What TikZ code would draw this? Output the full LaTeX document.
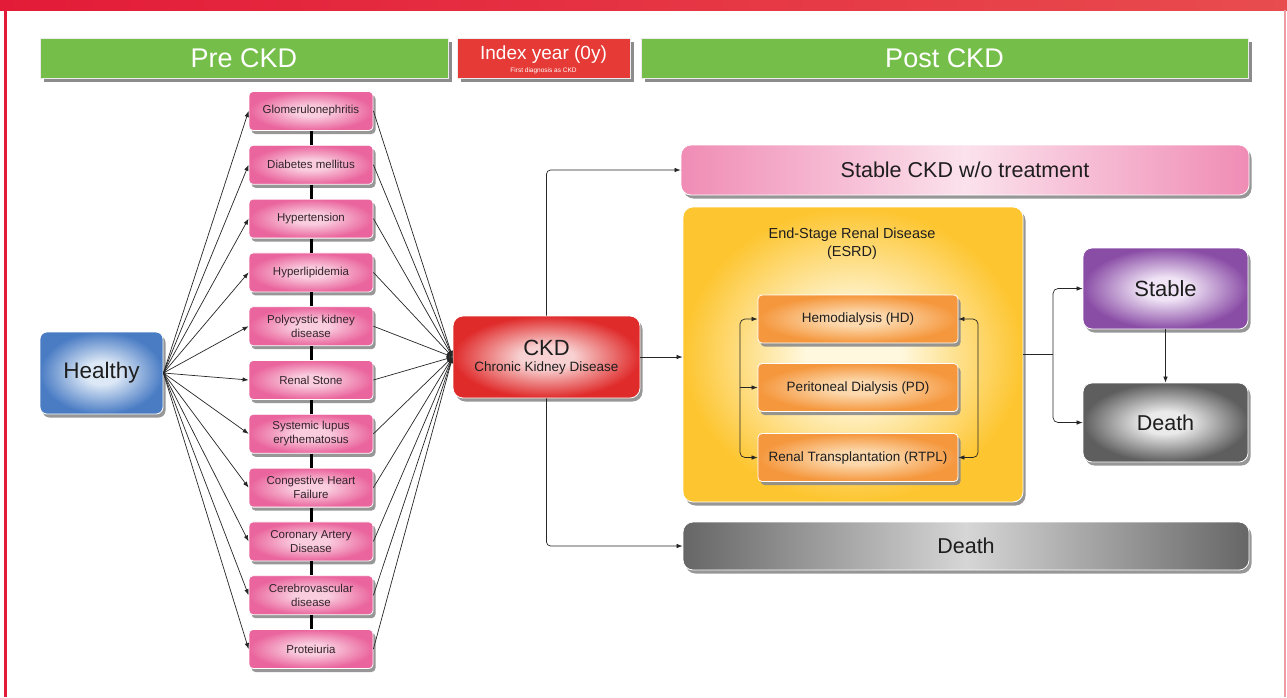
\documentclass[tikz,border=0pt]{standalone}
\usepackage{fontspec}
\setmainfont{Liberation Sans}
\usetikzlibrary{arrows.meta,shadows,calc}

\newcommand\fsz[2]{\fontsize{#1}{#2}\selectfont}

% palette
\definecolor{topL}{HTML}{E31B38}
\definecolor{topR}{HTML}{E84C4E}
\definecolor{rightB}{HTML}{F09AA2}
\definecolor{hdrgreen}{HTML}{76BE4A}
\definecolor{idxred}{HTML}{E53A35}
\definecolor{txt}{HTML}{1E1E1E}
\definecolor{pinktxt}{HTML}{33232A}
\definecolor{blueIn}{HTML}{DCE8F6}
\definecolor{blueOut}{HTML}{4A7CC4}
\definecolor{pinkIn}{HTML}{F9CCDE}
\definecolor{pinkOut}{HTML}{EA659D}
\definecolor{redIn}{HTML}{F8D2D2}
\definecolor{redOut}{HTML}{E02B2B}
\definecolor{yelIn}{HTML}{FFF8DE}
\definecolor{yelOut}{HTML}{FDC52F}
\definecolor{orIn}{HTML}{FCD8AC}
\definecolor{orOut}{HTML}{F5973D}
\definecolor{purIn}{HTML}{EFE3F5}
\definecolor{purOut}{HTML}{8A4DA6}
\definecolor{grayIn}{HTML}{EAEAEA}
\definecolor{grayOut}{HTML}{5E5E5E}
\definecolor{barPinkEnd}{HTML}{F08CB5}
\definecolor{barPinkMid}{HTML}{FBE2EC}
\definecolor{barGrayEnd}{HTML}{666666}
\definecolor{barGrayMid}{HTML}{D6D6D6}

% glowing fills: light centre fading to a saturated rim
\newcommand\mkglow[3]{\pgfdeclareradialshading{#1}{\pgfpointorigin}{%
  color(0bp)=(#2); color(7bp)=(#2); color(25bp)=(#3); color(50bp)=(#3)}}
\mkglow{glowblue}{blueIn}{blueOut}
\mkglow{glowpink}{pinkIn}{pinkOut}
\mkglow{glowred}{redIn}{redOut}
\mkglow{glowyel}{yelIn}{yelOut}
\mkglow{gloworange}{orIn}{orOut}
\mkglow{glowpurple}{purIn}{purOut}
\mkglow{glowgray}{grayIn}{grayOut}

\begin{document}
\begin{tikzpicture}[x=1pt,y=-1pt,
  conn/.style={draw=black!85, line width=0.7pt},
  arr/.style={conn, -{Latex[length=6pt,width=4.5pt]}},
  box/.style={rounded corners=7pt, draw=white, line width=0.8pt, inner sep=0pt,
    align=center, text=txt,
    drop shadow={shadow xshift=2.5pt, shadow yshift=-3.5pt, fill=black!45, opacity=0.9}},
  header/.style={inner sep=0pt, text=white, minimum height=40pt,
    draw=white!85!gray, line width=0.6pt,
    drop shadow={shadow xshift=4pt, shadow yshift=-4pt, fill=black!45, opacity=1}},
  pinkbox/.style={box, shade, shading=glowpink, text=pinktxt,
    minimum width=124pt, minimum height=39pt, rounded corners=4pt,
    font=\fsz{11.5}{14}},
  orbox/.style={box, shade, shading=gloworange, rounded corners=4pt,
    minimum width=200pt, minimum height=48pt, font=\fsz{13.5}{16}},
  chain/.style={line width=3pt, black}
]
\useasboundingbox (0,0) rectangle (1287,697);
\fill[white] (0,0) rectangle (1287,697);

% frame
\shade[left color=topL, right color=topR] (0,0) rectangle (1287,10);
\fill[topL] (3.5,10) rectangle (7,697);
\fill[rightB] (1284,10) rectangle (1285.5,697);

% phase headers
\node[header, fill=hdrgreen, minimum width=408pt, font=\fsz{27}{30}] (pre) at (244,58) {Pre CKD};
\node[header, fill=idxred, minimum width=173pt] (idx) at (543.5,58) {};
\node[text=white, font=\fsz{19}{22}, inner sep=0pt] (idxt) at ([yshift=3pt]idx.center) {Index year (0y)};
\node[text=white, font=\fsz{6.5}{7}, inner sep=0pt] (idxs) at ([yshift=-12.5pt]idx.center) {First diagnosis as CKD};
\node[header, fill=hdrgreen, minimum width=607pt, font=\fsz{27}{30}] (post) at (944.5,58) {Post CKD};

% starting state
\node[box, shade, shading=glowblue, minimum width=123pt, minimum height=82pt,
      font=\fsz{22.5}{26}] (H) at (101.5,373) {Healthy};

% underlying conditions
\foreach \t [count=\i from 0] in {Glomerulonephritis, Diabetes mellitus, Hypertension,
  Hyperlipidemia, Polycystic kidney\\disease, Renal Stone, Systemic lupus\\erythematosus,
  Congestive Heart\\Failure, Coronary Artery\\Disease, Cerebrovascular\\disease, Proteiuria}
  {\node[pinkbox] (p\i) at (311,111+53.8*\i) {\t};}

\foreach \i [evaluate=\i as \j using int(\i+1)] in {0,...,9}
  {\draw[chain] (p\i.south) -- (p\j.north);}

% CKD
\node[box, shade, shading=glowred, minimum width=187pt, minimum height=82pt,
      rounded corners=10pt] (C) at (546.5,357)
      {{\fsz{22}{24}CKD}\\[4pt]{\fsz{13.5}{15}Chronic Kidney Disease}};

\foreach \i in {0,...,10}
  {\draw[arr] (H.east) -- (p\i.west);
   \draw[arr] (p\i.east) -- (C.west);}

% outcomes
\node[box, shade, left color=barPinkEnd, right color=barPinkEnd, middle color=barPinkMid,
      rounded corners=10pt, minimum width=568pt, minimum height=50pt,
      font=\fsz{21.5}{24}] (SC) at (965,170) {Stable CKD w/o treatment};

\node[box, shade, shading=glowyel, rounded corners=10pt, minimum width=340pt,
      minimum height=295pt] (E) at (853,354.5) {};
\node[text=txt, align=center, font=\fsz{14.5}{18}, inner sep=0pt] (Et) at (852,244)
      {End-Stage Renal Disease\\(ESRD)};

\node[orbox] (hd) at (858,319) {Hemodialysis (HD)};
\node[orbox] (pd) at (858,387.5) {Peritoneal Dialysis (PD)};
\node[orbox] (rt) at (858,457.5) {Renal Transplantation (RTPL)};

\node[box, shade, left color=barGrayEnd, right color=barGrayEnd, middle color=barGrayMid,
      rounded corners=10pt, minimum width=566pt, minimum height=48pt,
      font=\fsz{21.5}{24}] (DB) at (966,546) {Death};

\node[box, shade, shading=glowpurple, rounded corners=9pt, minimum width=165pt,
      minimum height=81pt, font=\fsz{22}{26}] (st) at (1165.5,288.5) {Stable};
\node[box, shade, shading=glowgray, rounded corners=9pt, minimum width=165pt,
      minimum height=79pt, font=\fsz{21.5}{26}] (dt) at (1165.5,422.5) {Death};

% transitions after diagnosis
\draw[arr, rounded corners=4pt] (C.north) |- (SC.west);
\draw[arr, rounded corners=4pt] (C.south) |- (DB.west);
\draw[arr] (C.east) -- (C.east -| E.west);

\coordinate (J) at (740,387.5);
\draw[arr, rounded corners=5pt] (J) |- (hd.west);
\draw[arr] (J) -- (pd.west);
\draw[arr, rounded corners=5pt] (J) |- (rt.west);
\draw[conn, {Latex[length=6pt,width=4.5pt]}-{Latex[length=6pt,width=4.5pt]}, rounded corners=5pt]
  (hd.east) -| (978,390) |- (rt.east);

\coordinate (K) at (1053,354.5);
\draw[conn] (E.east) -- (K);
\draw[arr, rounded corners=5pt] (K) |- (st.west);
\draw[arr, rounded corners=5pt] (K) |- (dt.west);
\draw[arr] (st.south) -- (dt.north);
\end{tikzpicture}
\end{document}
